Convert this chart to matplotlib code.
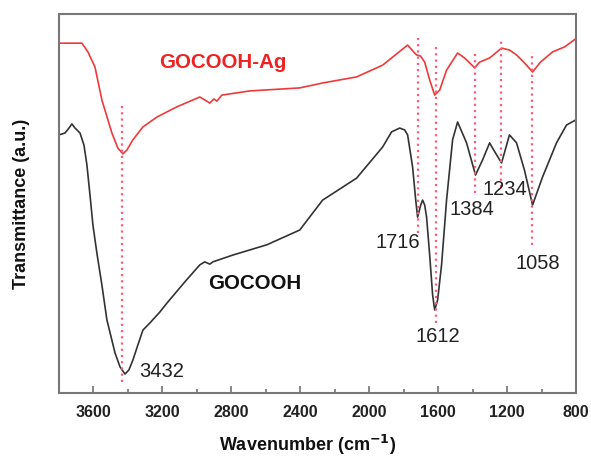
import matplotlib
matplotlib.use("Agg")
import matplotlib.pyplot as plt
from matplotlib.ticker import MultipleLocator

plt.rcParams['font.family'] = ['Liberation Sans', 'DejaVu Sans']

# GOCOOH-Ag (red, upper)
ag_wn = [3800, 3667, 3632, 3591, 3551, 3493, 3458, 3429, 3406, 3371, 3313, 3232, 3116, 2983,
         2942, 2925, 2901, 2884, 2855, 2693, 2403, 2270, 2073, 1922, 1777, 1742, 1725, 1702,
         1678, 1649, 1620, 1591, 1551, 1487, 1446, 1388, 1359, 1301, 1232, 1186, 1145, 1099,
         1052, 1006, 936, 867, 803]
ag_t = [92.3, 92.3, 90.0, 86.0, 77.3, 68.6, 64.6, 63.1, 64.1, 66.8, 70.2, 72.8, 75.5, 78.1,
        77.0, 76.5, 77.6, 77.0, 78.6, 79.7, 80.5, 81.8, 83.4, 86.5, 91.8, 90.0, 89.2, 88.9,
        87.3, 82.6, 78.6, 79.9, 85.2, 89.7, 88.4, 85.8, 87.3, 88.4, 91.0, 90.5, 89.2, 87.1,
        84.7, 87.3, 90.0, 91.3, 93.4]

# GOCOOH (black, lower)
go_wn = [3800, 3765, 3742, 3725, 3707, 3678, 3655, 3638, 3620, 3603, 3580, 3551, 3522, 3475,
         3446, 3417, 3394, 3371, 3342, 3313, 3272, 3214, 3174, 3070, 2983, 2954, 2925, 2907,
         2791, 2594, 2403, 2270, 2073, 1922, 1870, 1823, 1794, 1777, 1748, 1730, 1719, 1701,
         1690, 1678, 1667, 1649, 1632, 1620, 1603, 1580, 1551, 1516, 1487, 1435, 1383, 1342,
         1301, 1284, 1232, 1186, 1145, 1099, 1052, 994, 913, 855, 803]
go_t = [68.1, 68.6, 69.9, 71.0, 69.9, 68.6, 65.4, 60.2, 52.2, 44.3, 36.9, 28.5, 19.3, 10.6,
        6.9, 5.0, 6.1, 8.7, 12.7, 16.6, 18.5, 21.4, 23.7, 29.3, 33.8, 34.6, 34.0, 34.6,
        36.4, 39.1, 43.0, 50.9, 56.7, 64.9, 68.9, 69.9, 69.4, 68.1, 59.6, 50.9, 46.4, 49.6,
        50.9, 49.6, 46.4, 36.4, 25.9, 21.9, 24.5, 33.8, 50.9, 66.8, 71.5, 66.0, 57.5, 61.5,
        66.0, 64.6, 60.7, 68.1, 66.0, 58.8, 49.6, 57.0, 66.0, 70.7, 72.0]

# marked peaks: position, dotted line extent, label position
peak_wn = [3432, 1716, 1612, 1384, 1234, 1058]
peak_top = [76.0, 93.7, 91.3, 90.0, 93.7, 90.0]
peak_bot = [2.9, 42.2, 18.5, 52.8, 54.4, 39.1]
peak_labels = ['3432', '1716', '1612', '1384', '1234', '1058']
label_x = [3205, 1835, 1603, 1406, 1215, 1023]
label_y = [5.8, 39.6, 14.8, 48.3, 53.8, 34.3]

xticks = [3600, 3200, 2800, 2400, 2000, 1600, 1200, 800]

fig = plt.figure(figsize=(5.91, 4.59), dpi=100)
ax = fig.add_axes([0.0998, 0.1438, 0.8748, 0.8257])

ax.plot(ag_wn, ag_t, color='#ee3a3a', lw=1.2)
ax.plot(go_wn, go_t, color='#333333', lw=1.2)

for w, t, b in zip(peak_wn, peak_top, peak_bot):
    ax.plot([w, w], [b, t], color='#ff5a78', lw=1.6, ls=(0, (1.0, 1.8)))

for lab, x, y in zip(peak_labels, label_x, label_y):
    ax.text(x, y, lab, fontsize=14.5, color='#222222', ha='center', va='center')

ax.text(2664, 29.0, 'GOCOOH', fontsize=14.8, fontweight='bold', color='#111111',
        ha='center', va='center')
ax.text(2849, 87.3, 'GOCOOH-Ag', fontsize=14.8, fontweight='bold', color='#ee2222',
        ha='center', va='center')

ax.set_xlim(3800, 800)
ax.set_ylim(0, 100)
ax.set_xticks(xticks)
ax.set_xticklabels([str(v) for v in xticks])
ax.xaxis.set_minor_locator(MultipleLocator(200))
ax.set_yticks([])
ax.tick_params(axis='x', which='major', direction='in', length=5, width=1.1,
               colors='#666666', labelcolor='#222222', labelsize=11.5, pad=9)
ax.tick_params(axis='x', which='minor', direction='in', length=3, width=1.1, colors='#666666')
for lab in ax.get_xticklabels():
    lab.set_fontweight('bold')
for s in ax.spines.values():
    s.set_color('#777777')
    s.set_linewidth(1.5)

ax.set_xlabel('Wavenumber (cm$^{\\mathbf{-1}}$)', fontsize=13, fontweight='bold', color='#111111')
ax.xaxis.set_label_coords(0.48, -0.105)
ax.set_ylabel('Transmittance (a.u.)', fontsize=13, fontweight='bold', color='#111111')
ax.yaxis.set_label_coords(-0.056, 0.5)

fig.savefig('out.png', dpi=100)
